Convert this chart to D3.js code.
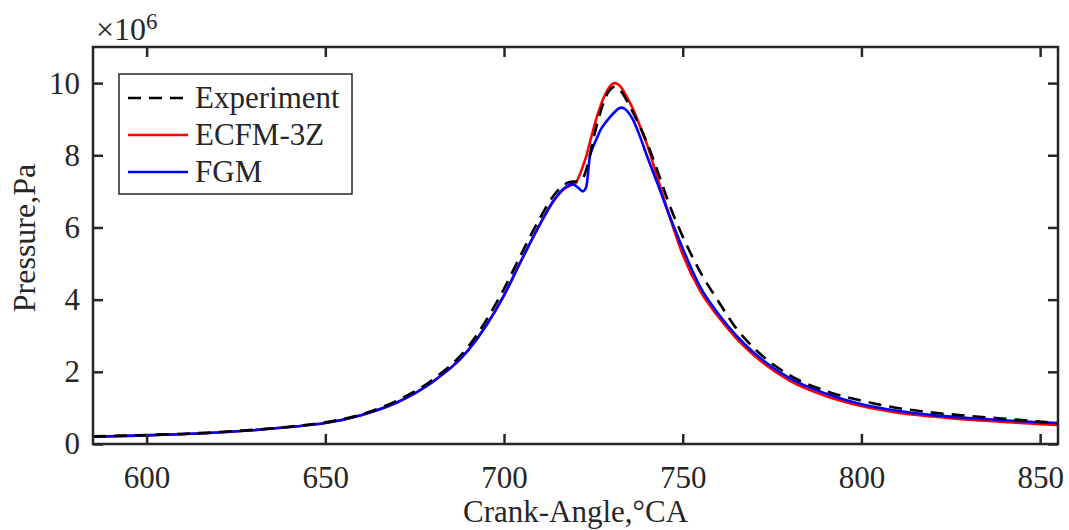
<!DOCTYPE html>
<html>
<head>
<meta charset="utf-8">
<script src="https://cdn.jsdelivr.net/npm/d3@7"></script>
<style>
  html, body { margin: 0; padding: 0; background: #fff; }
  svg { display: block; }
  text { font-family: "Liberation Serif", "Times New Roman", serif; fill: #262626; }
</style>
</head>
<body>
<script>
// crank angle, degrees
var angles = [585, 600, 620, 640, 650, 660, 670, 680, 690, 700, 705, 710, 714, 717, 719, 720,
  721, 722, 723, 724, 725, 726, 727, 728, 729, 730, 731, 732, 733, 734, 736, 738, 740,
  743, 746, 750, 755, 760, 765, 770, 780, 790, 800, 810, 820, 830, 840, 850, 855];

// pressure in MPa (plotted with a x10^6 multiplier)
var experiment = [0.21, 0.25, 0.33, 0.48, 0.6, 0.82, 1.2, 1.78, 2.7, 4.3, 5.3, 6.25, 6.9, 7.2, 7.27, 7.27,
  7.3, 7.35, 7.6, 8.0, 8.45, 8.85, 9.2, 9.5, 9.72, 9.85, 9.9, 9.85, 9.74, 9.58, 9.2, 8.8, 8.35,
  7.55, 6.7, 5.75, 4.75, 3.95, 3.2, 2.65, 1.9, 1.47, 1.2, 1.0, 0.87, 0.78, 0.7, 0.62, 0.58];

var ecfm3z = [0.2, 0.24, 0.32, 0.47, 0.58, 0.8, 1.15, 1.72, 2.6, 4.12, 5.12, 6.08, 6.75, 7.08, 7.18, 7.22,
  7.42, 7.68, 7.97, 8.35, 8.72, 9.07, 9.37, 9.62, 9.82, 9.95, 10.0, 9.96, 9.85, 9.68, 9.3, 8.82, 8.3,
  7.35, 6.4, 5.25, 4.22, 3.52, 2.93, 2.45, 1.75, 1.33, 1.05, 0.87, 0.76, 0.67, 0.61, 0.55, 0.53];

var fgm = [0.2, 0.24, 0.32, 0.47, 0.58, 0.8, 1.15, 1.72, 2.6, 4.12, 5.12, 6.08, 6.76, 7.1, 7.2, 7.16,
  7.08, 7.0, 7.12, 7.95, 8.25, 8.48, 8.7, 8.85, 8.98, 9.1, 9.2, 9.29, 9.32, 9.27, 9.0, 8.53, 7.98,
  7.2, 6.4, 5.42, 4.33, 3.6, 3.0, 2.52, 1.82, 1.4, 1.1, 0.92, 0.8, 0.72, 0.66, 0.6, 0.58];

var xTicks = [600, 650, 700, 750, 800, 850];
var yTicks = [0, 2, 4, 6, 8, 10];

var seriesNames = ["Experiment", "ECFM-3Z", "FGM"];
var seriesValues = [experiment, ecfm3z, fgm];
var seriesColors = ["#000000", "#ff0000", "#0000ff"];
var seriesDash = ["13,8", null, null];

var W = 1069, H = 530;
var margin = {top: 47, right: 11, bottom: 86, left: 93};
var width = W - margin.left - margin.right,
    height = H - margin.top - margin.bottom;

var svg = d3.select("body").append("svg")
    .attr("width", W)
    .attr("height", H);

var g = svg.append("g")
    .attr("transform", "translate(" + margin.left + "," + margin.top + ")");

var x = d3.scaleLinear().domain([585, 855]).range([0, width]);
var y = d3.scaleLinear().domain([0, 11]).range([height, 0]);

// clip so lines stay inside the box
g.append("clipPath").attr("id", "clip")
  .append("rect").attr("width", width).attr("height", height);

// lines
var line = d3.line().curve(d3.curveMonotoneX);

var plot = g.append("g").attr("clip-path", "url(#clip)");
// draw experiment last so dashes sit on top
[1, 2, 0].forEach(function(i) {
  var pts = angles.map(function(a, k) { return [x(a), y(seriesValues[i][k])]; });
  plot.append("path")
    .attr("d", line(pts))
    .attr("fill", "none")
    .attr("stroke", seriesColors[i])
    .attr("stroke-width", 2.6)
    .attr("stroke-dasharray", seriesDash[i]);
});

// axes, ticks inward
var tickLen = 10;
var axisColor = "#262626";

function styleAxis(sel) {
  sel.select(".domain").remove();
  sel.selectAll(".tick line").attr("stroke", axisColor).attr("stroke-width", 2.5);
  sel.selectAll(".tick text").style("font-size", "31px").attr("fill", axisColor);
}

g.append("g")
  .attr("transform", "translate(0," + height + ")")
  .call(d3.axisBottom(x).tickValues(xTicks).tickSize(-tickLen).tickPadding(22))
  .call(styleAxis);

g.append("g")
  .call(d3.axisTop(x).tickValues(xTicks).tickSize(-tickLen).tickFormat(""))
  .call(styleAxis);

g.append("g")
  .call(d3.axisLeft(y).tickValues(yTicks).tickSize(-tickLen).tickPadding(13))
  .call(styleAxis);

g.append("g")
  .attr("transform", "translate(" + width + ",0)")
  .call(d3.axisRight(y).tickValues(yTicks).tickSize(-tickLen).tickFormat(""))
  .call(styleAxis);

g.append("rect")
  .attr("width", width)
  .attr("height", height)
  .attr("fill", "none")
  .attr("stroke", axisColor)
  .attr("stroke-width", 2.5);

// multiplier
var mult = svg.append("text")
  .attr("x", 96)
  .attr("y", 40)
  .style("font-size", "32px");
mult.append("tspan").text("\u00d710");
mult.append("tspan").attr("dy", -11).style("font-size", "23px").text("6");

// axis labels
svg.append("text")
  .attr("x", margin.left + width / 2)
  .attr("y", 522)
  .attr("text-anchor", "middle")
  .style("font-size", "31px")
  .text("Crank-Angle,\u00b0CA");

svg.append("text")
  .attr("transform", "translate(35," + (margin.top + 191) + ") rotate(-90)")
  .attr("text-anchor", "middle")
  .style("font-size", "32px")
  .text("Pressure,Pa");

// legend
var legend = svg.append("g").attr("transform", "translate(119,74)");
legend.append("rect")
  .attr("width", 233)
  .attr("height", 120)
  .attr("fill", "#fff")
  .attr("stroke", axisColor)
  .attr("stroke-width", 1.5);

seriesNames.forEach(function(name, i) {
  var cy = 24 + i * 37;
  legend.append("line")
    .attr("x1", 9).attr("x2", 69)
    .attr("y1", cy).attr("y2", cy)
    .attr("stroke", seriesColors[i])
    .attr("stroke-width", 2.6)
    .attr("stroke-dasharray", seriesDash[i]);
  legend.append("text")
    .attr("x", 76)
    .attr("y", cy + 10)
    .style("font-size", "31px")
    .text(name);
});
</script>
</body>
</html>
